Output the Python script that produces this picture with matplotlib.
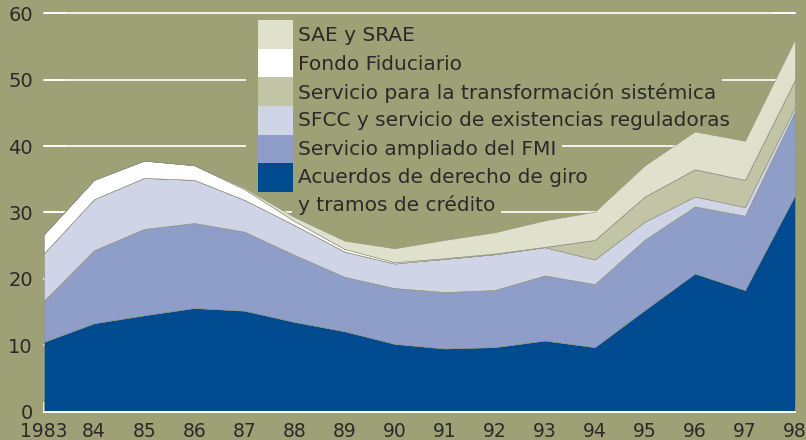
import matplotlib
matplotlib.use("Agg")
import matplotlib.pyplot as plt
from matplotlib.patches import Rectangle

plt.rcParams['font.family'] = ['DejaVu Sans']

# ---- data ----
years = list(range(1983, 1999))
xlabels = ['1983', '84', '85', '86', '87', '88', '89', '90', '91', '92',
           '93', '94', '95', '96', '97', '98']
acuerdos = [10.5, 13.3, 14.5, 15.6, 15.2, 13.5, 12.1, 10.2, 9.5, 9.7, 10.7, 9.7, 15.3, 20.8, 18.3, 32.6]
saf = [6.2, 11.0, 13.0, 12.8, 11.9, 10.1, 8.2, 8.4, 8.5, 8.6, 9.8, 9.5, 10.6, 10.1, 11.2, 12.6]
sfcc = [7.15, 7.7, 7.7, 6.5, 4.8, 4.5, 3.8, 3.7, 5.0, 5.4, 4.25, 3.7, 2.7, 1.5, 1.3, 0.7]
sts = [0, 0, 0, 0, 0, 0, 0, 0, 0, 0, 0.05, 2.95, 3.8, 4.1, 4.1, 4.1]
fondo = [2.85, 2.9, 2.6, 2.2, 1.6, 0.6, 0.4, 0.2, 0.1, 0.1, 0, 0, 0, 0, 0, 0]
sae = [0, 0, 0, 0, 0.2, 0.6, 1.25, 2.1, 2.75, 3.2, 4.0, 4.25, 4.7, 5.7, 5.9, 6.1]

legend_labels = ['SAE y SRAE', 'Fondo Fiduciario',
                 'Servicio para la transformación sistémica',
                 'SFCC y servicio de existencias reguladoras',
                 'Servicio ampliado del FMI',
                 'Acuerdos de derecho de giro',
                 'y tramos de crédito']

bg = '#9DA175'
c_acu = '#004A8F'
c_saf = '#8E9EC8'
c_sfcc = '#CFD4E7'
c_sts = '#C1C5A5'
c_fondo = '#FFFFFF'
c_sae = '#DFE1CC'
txt = '#2A2A2A'

W, H = 806, 440
fig = plt.figure(figsize=(W / 100, H / 100), dpi=100, facecolor=bg)
ax = fig.add_axes([44 / W, (H - 411.5) / H, (795 - 44) / W, (411.5 - 13.3) / H])
ax.set_facecolor(bg)

ax.stackplot(years, acuerdos, saf, sfcc, sts, fondo, sae,
             colors=[c_acu, c_saf, c_sfcc, c_sts, c_fondo, c_sae],
             edgecolor='#8d9380', linewidth=0.4, zorder=2)

ax.set_xlim(1983, 1998)
ax.set_ylim(0, 60)
ax.set_yticks(range(0, 61, 10))
ax.set_xticks(years)
ax.set_xticklabels(xlabels)

ax.yaxis.grid(True, color='white', linewidth=1.2)
ax.set_axisbelow(True)
for gl in ax.get_ygridlines():
    gl.set_clip_on(False)
    gl.set_zorder(0.5)

for s in ['top', 'left', 'right']:
    ax.spines[s].set_visible(False)
ax.spines['bottom'].set_color('white')
ax.spines['bottom'].set_linewidth(1.4)
ax.spines['bottom'].set_zorder(5)

ax.tick_params(axis='y', direction='in', length=15.5, width=1.1, color='white',
               left=True, right=True, labelleft=True, labelright=False,
               labelsize=14, labelcolor=txt, pad=8)
ax.tick_params(axis='x', direction='in', length=7, width=1.1, color='white',
               labelsize=13.5, labelcolor=txt, pad=7.5)
for t in ax.xaxis.get_major_ticks() + ax.yaxis.get_major_ticks():
    t.tick1line.set_zorder(6)
    t.tick2line.set_zorder(6)

# ---- legend (manual) ----
def fx(px):
    return px / W

def fy(py):
    return 1 - py / H

LFS = 14.5

# background blocks (between gridlines and areas) hide the gridlines
ax.add_patch(Rectangle((fx(246), fy(180)), fx(299) - fx(246), fy(18) - fy(180),
                       transform=fig.transFigure, facecolor=bg, edgecolor='none',
                       zorder=1, clip_on=False))

centers = [35.8, 64.3, 92.6, 120.9, 149.2, 177.4, 205.0]
for lab, cy in zip(legend_labels, centers):
    ax.text(fx(298), fy(cy), lab, fontsize=LFS, color='none', va='center', ha='left',
            transform=fig.transFigure, clip_on=False,
            bbox=dict(boxstyle='square,pad=0.3', facecolor=bg, edgecolor='none'),
            zorder=1)

sw_colors = [c_sae, c_fondo, c_sts, c_sfcc, c_saf, c_acu]
row_top = 20.0
row_h = 28.67
for i, c in enumerate(sw_colors):
    y0 = row_top + i * row_h
    fig.patches.append(Rectangle((fx(258), fy(y0 + row_h)), fx(293) - fx(258), row_h / H,
                                 transform=fig.transFigure, facecolor=c, edgecolor='none',
                                 zorder=4))

for lab, cy in zip(legend_labels, centers):
    fig.text(fx(298), fy(cy), lab, fontsize=LFS, color=txt, va='center', ha='left',
             zorder=5)

fig.savefig('out.png', dpi=100, facecolor=bg)
